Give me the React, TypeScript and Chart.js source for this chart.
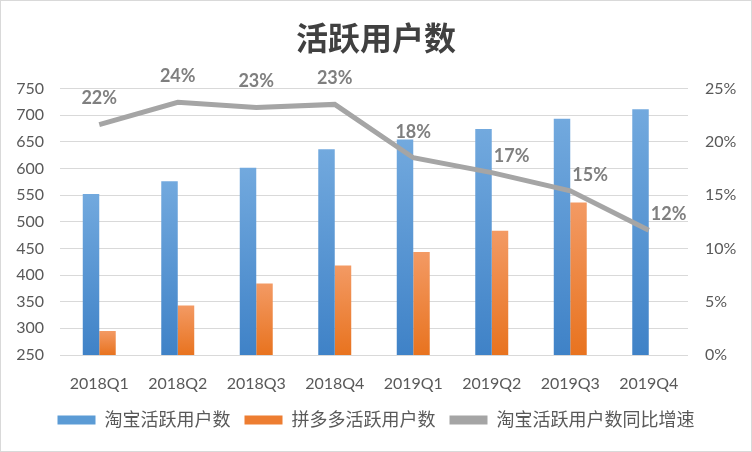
import React, { useEffect, useRef } from "react";
import { Chart, registerables } from "chart.js";

Chart.register(...registerables);

const categories = ["2018Q1", "2018Q2", "2018Q3", "2018Q4", "2019Q1", "2019Q2", "2019Q3", "2019Q4"];
const taobaoUsers = [552, 576, 601, 636, 654, 674, 693, 711];
const pddUsers: (number | null)[] = [295, 343, 384, 418, 443, 483, 536, null];
const taobaoGrowth = [21.6, 23.7, 23.2, 23.5, 18.5, 17.1, 15.4, 11.7];
const growthLabels = ["22%", "24%", "23%", "23%", "18%", "17%", "15%", "12%"];
const labelPlacement = ["above", "above", "above", "above", "above", "right", "right", "right"];

const FONT = "Lato, 'Noto Sans CJK SC', sans-serif";
const TEXT = "#595959";
const legendColors = ["#5b9bd5", "#ed7d31", "#a5a5a5"];

function barGradient(top: string, bottom: string) {
  return (ctx: any) => {
    const chart = ctx.chart;
    const area = chart.chartArea;
    if (!area || ctx.type !== "data") return bottom;
    const v = ctx.raw;
    if (v == null) return bottom;
    const y = chart.scales.y.getPixelForValue(v);
    const g = chart.ctx.createLinearGradient(0, area.bottom, 0, Math.min(y, area.bottom - 1));
    g.addColorStop(0, bottom);
    g.addColorStop(1, top);
    return g;
  };
}

const labelPlugin = {
  id: "lineLabels",
  afterDatasetsDraw(chart: any) {
    const meta = chart.getDatasetMeta(2);
    const c = chart.ctx;
    c.save();
    c.font = `bold 18px ${FONT}`;
    c.fillStyle = "#7f7f7f";
    meta.data.forEach((pt: any, i: number) => {
      const place = labelPlacement[i];
      if (place === "above") {
        c.textAlign = "center";
        c.textBaseline = "middle";
        c.fillText(growthLabels[i], pt.x, pt.y - 26);
      } else {
        c.textAlign = "left";
        c.textBaseline = "middle";
        c.fillText(growthLabels[i], pt.x + 2, pt.y - 16);
      }
    });
    c.restore();
  },
};

export default function App() {
  const ref = useRef<HTMLCanvasElement | null>(null);
  useEffect(() => {
    document.body.style.margin = "0";
    const chart = new Chart(ref.current!, {
      type: "bar",
      data: {
        labels: categories,
        datasets: [
          {
            label: "淘宝活跃用户数",
            data: taobaoUsers,
            backgroundColor: barGradient("#72a9de", "#3f82c7"),
            categoryPercentage: 0.42,
            barPercentage: 1,
            yAxisID: "y",
            order: 1,
          },
          {
            label: "拼多多活跃用户数",
            data: pddUsers,
            backgroundColor: barGradient("#f39a64", "#e8731f"),
            categoryPercentage: 0.42,
            barPercentage: 1,
            yAxisID: "y",
            order: 1,
          },
          {
            type: "line",
            label: "淘宝活跃用户数同比增速",
            data: taobaoGrowth,
            borderColor: "#a5a5a5",
            backgroundColor: "#a5a5a5",
            borderWidth: 5,
            pointRadius: 0,
            tension: 0,
            yAxisID: "y1",
            order: 0,
          } as any,
        ],
      },
      options: {
        responsive: false,
        animation: false,
        layout: { padding: { bottom: 12 } },
        plugins: {
          title: {
            display: true,
            text: "活跃用户数",
            color: "#404040",
            font: { family: FONT, size: 32, weight: "bold" },
            padding: { top: 19, bottom: 30 },
          },
          legend: {
            position: "bottom",
            labels: {
              color: TEXT,
              font: { family: FONT, size: 18 },
              boxWidth: 38,
              boxHeight: 9,
              padding: 14,
              sort: (a: any, b: any) => a.datasetIndex - b.datasetIndex,
              generateLabels: (ch: any) => {
                const items = (Chart.defaults.plugins.legend.labels as any).generateLabels(ch);
                items.forEach((it: any) => {
                  it.lineWidth = 0;
                  it.fillStyle = legendColors[it.datasetIndex];
                });
                return items;
              },
            },
          },
          tooltip: { enabled: false },
        },
        scales: {
          x: {
            grid: { display: false },
            border: { display: false },
            ticks: { color: TEXT, font: { family: FONT, size: 16 }, padding: 11 },
            afterFit: (s: any) => {
              s.height = 42;
            },
          },
          y: {
            position: "left",
            min: 250,
            max: 750,
            ticks: { stepSize: 50, color: TEXT, font: { family: FONT, size: 16 }, padding: 16 },
            grid: { color: "#d9d9d9", lineWidth: 1, drawTicks: false },
            border: { display: false },
            afterFit: (s: any) => {
              s.width = 59;
            },
          },
          y1: {
            position: "right",
            min: 0,
            max: 25,
            ticks: {
              stepSize: 5,
              color: TEXT,
              font: { family: FONT, size: 16 },
              padding: 17,
              callback: (v: any) => v + "%",
            },
            grid: { display: false, drawTicks: false },
            border: { display: false },
            afterFit: (s: any) => {
              s.width = 63;
            },
          },
        },
      },
      plugins: [labelPlugin],
    } as any);
    return () => chart.destroy();
  }, []);
  return (
    <div
      style={{
        width: 752,
        height: 452,
        border: "1px solid #d9d9d9",
        boxSizing: "border-box",
        background: "#fff",
      }}
    >
      <canvas ref={ref} width={750} height={450} style={{ display: "block" }} />
    </div>
  );
}
